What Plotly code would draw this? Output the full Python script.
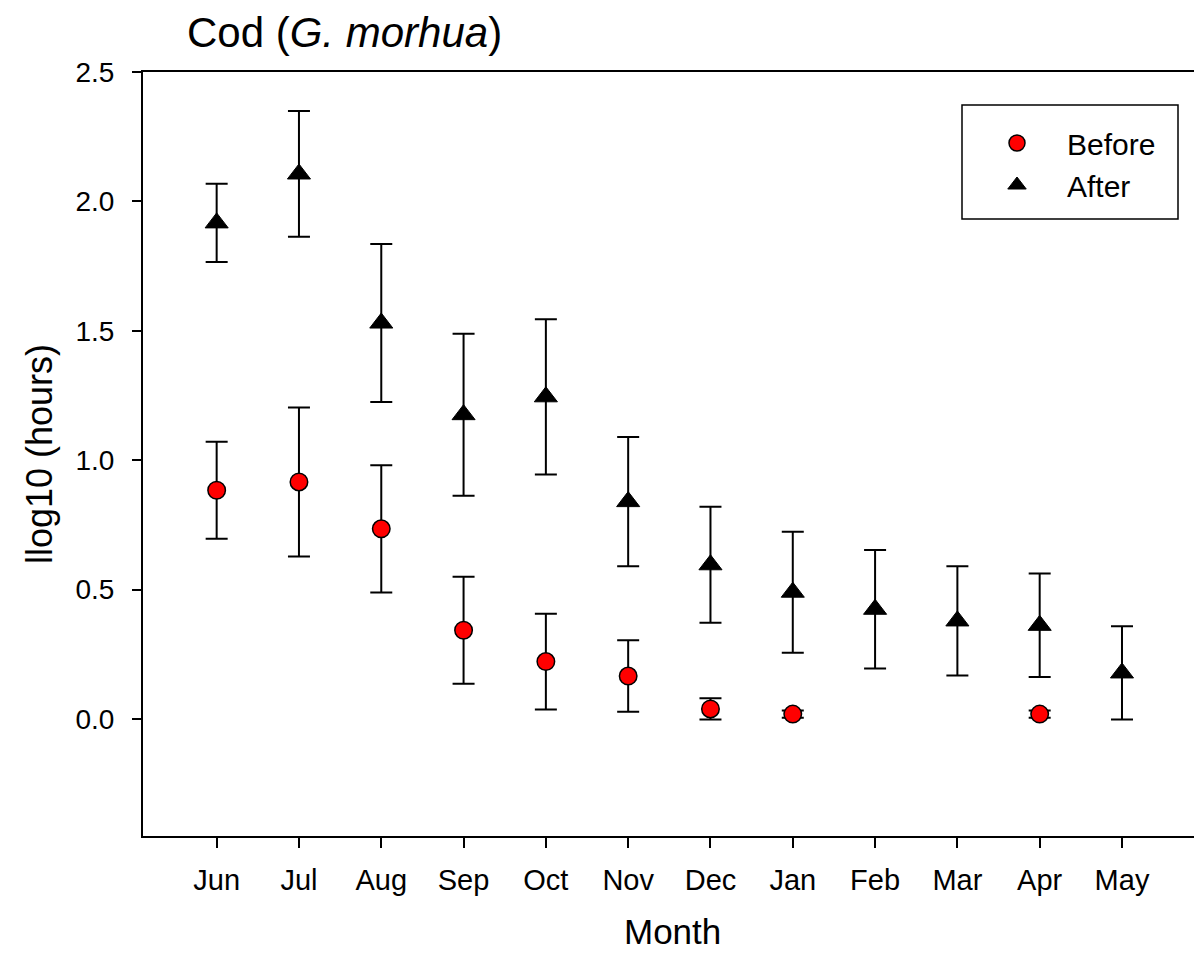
import plotly.graph_objects as go

# Monthly mean log10 hours with standard errors
months = ["Jun", "Jul", "Aug", "Sep", "Oct", "Nov", "Dec", "Jan", "Feb", "Mar", "Apr", "May"]

before_mean = [0.884, 0.916, 0.735, 0.343, 0.222, 0.166, 0.039, 0.019, None, None, 0.019, None]
before_err = [0.187, 0.288, 0.246, 0.207, 0.185, 0.138, 0.041, 0.014, None, None, 0.014, None]

after_mean = [1.917, 2.106, 1.530, 1.176, 1.245, 0.840, 0.596, 0.490, 0.424, 0.379, 0.362, 0.178]
after_err = [0.151, 0.243, 0.305, 0.313, 0.300, 0.250, 0.224, 0.234, 0.229, 0.211, 0.200, 0.180]

FONT = "Liberation Sans, Arial, sans-serif"
W, H = 1194, 956
L, T, B, R = 143, 72, 120, 0

fig = go.Figure()

fig.add_trace(go.Scatter(
    x=months, y=before_mean, mode="markers", name="Before",
    marker=dict(symbol="circle", size=17.5, color="#ff0000",
                line=dict(color="black", width=1.5)),
    error_y=dict(type="data", array=before_err, visible=True,
                 color="black", thickness=2, width=11),
))

fig.add_trace(go.Scatter(
    x=months, y=after_mean, mode="markers", name="After",
    marker=dict(symbol="triangle-up", size=20, color="black",
                line=dict(color="black", width=1)),
    error_y=dict(type="data", array=after_err, visible=True,
                 color="black", thickness=2, width=11),
))

def px_x(p):
    return (p - L) / (W - L - R)

def px_y(p):
    return (H - B - p) / (H - T - B)

# legend frame
fig.add_shape(type="rect", xref="paper", yref="paper",
              x0=px_x(962), x1=px_x(1178), y0=px_y(219), y1=px_y(105),
              line=dict(color="black", width=1.5), fillcolor="rgba(0,0,0,0)")

# x-axis title
fig.add_annotation(text="Month", xref="paper", yref="paper",
                   x=px_x(672), y=px_y(953), xanchor="center", yanchor="bottom",
                   showarrow=False,
                   font=dict(family=FONT, size=35, color="black"))

fig.update_layout(
    width=W, height=H,
    margin=dict(l=L, r=R, t=T, b=B),
    paper_bgcolor="white", plot_bgcolor="white",
    font=dict(family=FONT, color="black", size=28),
    title=dict(text="Cod (<i>G. morhua</i>)", xref="container", yref="container",
               x=187 / W, xanchor="left", y=1 - 32 / H, yanchor="middle",
               font=dict(family=FONT, size=42, color="black")),
    showlegend=True,
    legend=dict(x=px_x(967), y=px_y(117), xanchor="left", yanchor="top",
                bgcolor="rgba(0,0,0,0)", borderwidth=0,
                font=dict(family=FONT, size=30, color="black"),
                itemwidth=90, tracegroupgap=0),
    xaxis=dict(
        type="category", categoryorder="array", categoryarray=months,
        range=[-0.895, 11.875], automargin=False,
        showgrid=False, zeroline=False,
        showline=True, linecolor="black", linewidth=2, mirror=True,
        ticks="outside", ticklen=10, tickwidth=2, tickcolor="black",
        tickfont=dict(family=FONT, size=29, color="black"),
        ticklabelstandoff=7,
    ),
    yaxis=dict(
        range=[-0.452, 2.5], automargin=False,
        tickvals=[0.0, 0.5, 1.0, 1.5, 2.0, 2.5],
        ticktext=["0.0", "0.5", "1.0", "1.5", "2.0", "2.5"],
        showgrid=False, zeroline=False,
        showline=True, linecolor="black", linewidth=2,
        ticks="outside", ticklen=9, tickwidth=2, tickcolor="black",
        tickfont=dict(family=FONT, size=28, color="black"),
        ticklabelstandoff=12,
        title=dict(text="llog10 (hours)", font=dict(family=FONT, size=36, color="black"),
                   standoff=12),
    ),
)

fig.write_html("out.html")
